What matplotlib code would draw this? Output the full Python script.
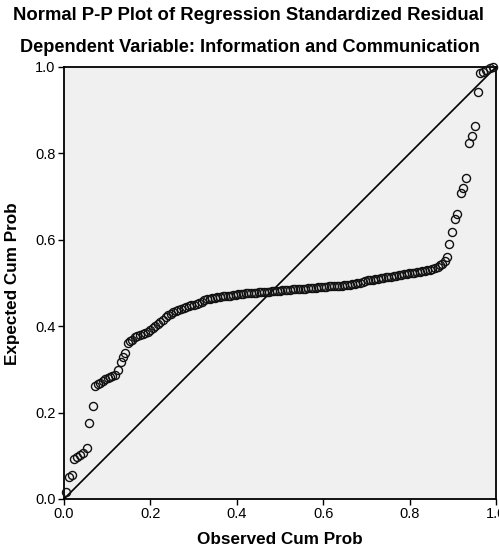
import matplotlib
matplotlib.use("Agg")
import matplotlib.pyplot as plt

plt.rcParams['font.family'] = ['Liberation Sans', 'DejaVu Sans']

title_line1 = "Normal P-P Plot of Regression Standardized Residual"
title_line2 = "Dependent Variable: Information and Communication"
x_label = "Observed Cum Prob"
y_label = "Expected Cum Prob"
tick_values = [0.0, 0.2, 0.4, 0.6, 0.8, 1.0]
tick_labels = ["0.0", "0.2", "0.4", "0.6", "0.8", "1.0"]

# Observed cumulative probability (left tail, bend, middle plateau, right tail)
observed_left = [0.005, 0.012, 0.019, 0.024, 0.031, 0.037, 0.043, 0.053, 0.059, 0.066,
                 0.072, 0.078, 0.083, 0.090, 0.095, 0.101, 0.106, 0.112, 0.118, 0.126,
                 0.132, 0.137, 0.141, 0.147, 0.153, 0.158, 0.164, 0.170, 0.176, 0.182,
                 0.188, 0.194, 0.200, 0.205, 0.211, 0.217, 0.223, 0.229, 0.235, 0.241,
                 0.247, 0.253, 0.259, 0.265, 0.271, 0.277, 0.283, 0.289, 0.295, 0.301,
                 0.307, 0.313, 0.319, 0.325, 0.331, 0.337, 0.343, 0.349, 0.355, 0.361,
                 0.367, 0.373, 0.379, 0.385, 0.391, 0.397, 0.403, 0.409, 0.415, 0.421,
                 0.427, 0.433, 0.439, 0.445, 0.451, 0.457, 0.463]
expected_left = [0.017, 0.052, 0.056, 0.092, 0.097, 0.102, 0.106, 0.117, 0.177, 0.215,
                 0.262, 0.266, 0.269, 0.272, 0.277, 0.280, 0.282, 0.285, 0.288, 0.299,
                 0.318, 0.329, 0.337, 0.360, 0.365, 0.369, 0.374, 0.377, 0.380, 0.382,
                 0.384, 0.387, 0.391, 0.395, 0.400, 0.405, 0.409, 0.415, 0.421, 0.426,
                 0.429, 0.432, 0.436, 0.438, 0.440, 0.442, 0.444, 0.446, 0.448, 0.450,
                 0.452, 0.454, 0.457, 0.460, 0.462, 0.464, 0.465, 0.466, 0.467, 0.468,
                 0.469, 0.470, 0.471, 0.471, 0.472, 0.473, 0.474, 0.475, 0.475, 0.476,
                 0.477, 0.477, 0.478, 0.478, 0.479, 0.479, 0.480]

observed_mid = [0.469, 0.475, 0.481, 0.487, 0.493, 0.499, 0.505, 0.511, 0.517, 0.523,
                0.529, 0.535, 0.541, 0.547, 0.553, 0.559, 0.565, 0.571, 0.577, 0.583,
                0.589, 0.595, 0.601, 0.607, 0.613, 0.619, 0.625, 0.631, 0.637, 0.643,
                0.649, 0.655, 0.661, 0.667, 0.673, 0.679, 0.685, 0.691, 0.697, 0.703,
                0.709, 0.715, 0.721, 0.727, 0.733, 0.739, 0.745, 0.751, 0.757, 0.763,
                0.769, 0.775, 0.781, 0.787, 0.793, 0.799, 0.805, 0.811, 0.817, 0.823,
                0.829, 0.835, 0.841, 0.847, 0.853, 0.859, 0.865, 0.871, 0.876]
expected_mid = [0.480, 0.480, 0.481, 0.481, 0.482, 0.482, 0.483, 0.483, 0.484, 0.484,
                0.485, 0.485, 0.486, 0.486, 0.487, 0.487, 0.488, 0.488, 0.489, 0.489,
                0.490, 0.490, 0.491, 0.491, 0.492, 0.492, 0.493, 0.493, 0.494, 0.494,
                0.495, 0.495, 0.496, 0.497, 0.498, 0.499, 0.500, 0.503, 0.505, 0.506,
                0.507, 0.508, 0.509, 0.510, 0.511, 0.512, 0.513, 0.514, 0.515, 0.516,
                0.517, 0.518, 0.519, 0.520, 0.521, 0.522, 0.523, 0.524, 0.525, 0.526,
                0.527, 0.528, 0.530, 0.531, 0.533, 0.535, 0.538, 0.542, 0.545]

observed_right = [0.881, 0.886, 0.892, 0.897, 0.905, 0.910, 0.918, 0.924, 0.931, 0.938,
                  0.944, 0.951, 0.959, 0.963, 0.971, 0.978, 0.986, 0.992]
expected_right = [0.552, 0.561, 0.590, 0.617, 0.647, 0.659, 0.708, 0.719, 0.742, 0.825,
                  0.840, 0.864, 0.943, 0.987, 0.989, 0.993, 0.997, 0.999]

observed = observed_left + observed_mid + observed_right
expected = expected_left + expected_mid + expected_right

fig = plt.figure(figsize=(4.99, 5.51), dpi=100)
ax = fig.add_axes([64 / 499, 52 / 551, 432 / 499, 432 / 551])
ax.set_facecolor("#f0f0f0")

ax.plot([0, 1], [0, 1], color="black", linewidth=1.2, zorder=2)
ax.plot(observed, expected, linestyle="none", marker="o", markersize=5.8,
        markerfacecolor="none", markeredgecolor="#111111", markeredgewidth=1.0,
        zorder=3, clip_on=False)

ax.set_xlim(0, 1)
ax.set_ylim(0, 1)
ax.set_xticks(tick_values)
ax.set_xticklabels(tick_labels)
ax.set_yticks(tick_values)
ax.set_yticklabels(tick_labels)
ax.tick_params(axis="both", direction="out", length=4, width=1.0, labelsize=10.5,
               colors="black", pad=2)
for side in ["left", "bottom", "top", "right"]:
    ax.spines[side].set_linewidth(1.3)
    ax.spines[side].set_color("black")

fig.text(248 / 499, 1 - 16 / 551, title_line1, ha="center", va="center",
         fontsize=13.3, fontweight="bold")
fig.text(250 / 499, 1 - 48 / 551, title_line2, ha="center", va="center",
         fontsize=13.1, fontweight="bold")
fig.text(280 / 499, 1 - 540 / 551, x_label, ha="center", va="center",
         fontsize=12.3, fontweight="bold")
fig.text(13 / 499, 1 - 284 / 551, y_label, ha="center", va="center",
         fontsize=12.3, fontweight="bold", rotation=90)

fig.savefig("out.png", dpi=100, facecolor="white")
